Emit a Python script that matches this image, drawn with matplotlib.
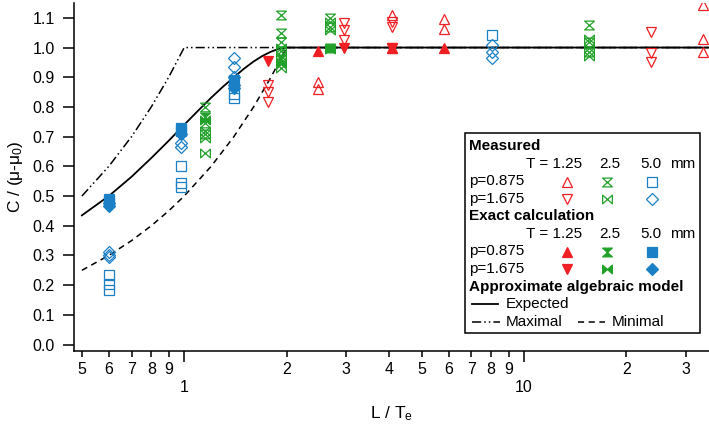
import matplotlib
matplotlib.use("Agg")
import matplotlib.pyplot as plt
from matplotlib.path import Path
from matplotlib.lines import Line2D
from matplotlib.patches import Rectangle
from matplotlib.ticker import FixedLocator, FuncFormatter

plt.rcParams['font.family'] = ['Liberation Sans', 'DejaVu Sans']
plt.rcParams['mathtext.fontset'] = 'custom'
plt.rcParams['mathtext.rm'] = 'Liberation Sans'
plt.rcParams['mathtext.it'] = 'Liberation Sans'

RED = "#ee2024"
GREEN = "#22a12a"
BLUE = "#1b80c5"

# model curves
exp_x = [0.5, 0.6, 0.7, 0.8, 0.9, 1.0, 1.1, 1.2, 1.3, 1.4, 1.5, 1.6, 1.7, 1.8, 1.9, 2.0, 35]
exp_y = [0.435, 0.5, 0.565, 0.628, 0.686, 0.74, 0.788, 0.831, 0.868, 0.90, 0.929, 0.953,
         0.972, 0.986, 0.996, 1.0, 1.0]
max_x = [0.5, 0.6, 0.7, 0.8, 0.9, 1.0, 35]
max_y = [0.5, 0.6, 0.7, 0.8, 0.9, 1.0, 1.0]
min_x = [0.5, 0.6, 0.7, 0.8, 0.9, 1.0, 1.2, 1.4, 1.6, 1.8, 2.0, 35]
min_y = [0.25, 0.3, 0.35, 0.4, 0.45, 0.5, 0.6, 0.7, 0.8, 0.9, 1.0, 1.0]

# measured
m_up_x = [2.47, 2.47, 4.1, 4.1, 5.8, 5.8, 33.5, 33.5, 33.5]
m_up_y = [0.885, 0.86, 1.11, 1.0, 1.095, 1.062, 1.144, 1.03, 0.985]
m_dn_x = [1.76, 1.76, 1.76, 2.95, 2.95, 2.95, 4.1, 4.1, 4.1, 23.7, 23.7, 23.7]
m_dn_y = [0.874, 0.85, 0.815, 1.083, 1.06, 1.026, 1.087, 1.07, 1.0, 1.053, 0.98, 0.952]
m_hg_x = [1.15, 1.15, 1.15, 1.93, 1.93, 1.93, 1.93, 2.68, 2.68, 15.5, 15.5, 15.5]
m_hg_y = [0.80, 0.745, 0.71, 1.11, 1.05, 1.02, 0.99, 1.10, 1.07, 1.077, 1.02, 0.985]
m_bt_x = [1.15, 1.15, 1.15, 1.93, 1.93, 1.93, 1.93, 2.68, 2.68, 15.5, 15.5, 15.5]
m_bt_y = [0.72, 0.695, 0.645, 1.00, 0.97, 0.95, 0.93, 1.085, 1.06, 1.03, 1.0, 0.97]
m_sq_x = [0.6, 0.6, 0.6, 0.98, 0.98, 0.98, 1.4, 1.4, 8.05]
m_sq_y = [0.235, 0.205, 0.185, 0.60, 0.545, 0.53, 0.845, 0.83, 1.043]
m_dm_x = [0.6, 0.6, 0.6, 0.98, 0.98, 1.4, 1.4, 1.4, 8.05, 8.05, 8.05]
m_dm_y = [0.31, 0.30, 0.295, 0.68, 0.665, 0.965, 0.935, 0.90, 1.01, 0.985, 0.965]

# exact calculation
e_up_x = [2.47, 4.1, 5.8]
e_up_y = [0.99, 1.0, 1.0]
e_dn_x = [1.76, 2.95, 4.1]
e_dn_y = [0.955, 1.0, 1.0]
e_hg_x = [1.15, 1.93, 2.68]
e_hg_y = [0.765, 0.96, 1.0]
e_bt_x = [1.15, 1.93, 2.68]
e_bt_y = [0.755, 0.945, 0.995]
e_sq_x = [0.6, 0.6, 0.98, 0.98, 1.4]
e_sq_y = [0.49, 0.485, 0.73, 0.72, 0.89]
e_dm_x = [0.6, 0.6, 0.98, 1.4, 1.4]
e_dm_y = [0.475, 0.468, 0.71, 0.875, 0.865]

hourglass = Path([(-1, 0.9), (1, 0.9), (-1, -0.9), (1, -0.9), (-1, 0.9)],
                 [Path.MOVETO, Path.LINETO, Path.LINETO, Path.LINETO, Path.CLOSEPOLY])
bowtie = Path([(-1, -0.9), (-1, 0.9), (1, -0.9), (1, 0.9), (-1, -0.9)],
              [Path.MOVETO, Path.LINETO, Path.LINETO, Path.LINETO, Path.CLOSEPOLY])

styles = {
    "up": dict(marker="^", ms=7.5, color=RED),
    "dn": dict(marker="v", ms=7.5, color=RED),
    "hg": dict(marker=hourglass, ms=7, color=GREEN),
    "bt": dict(marker=bowtie, ms=7, color=GREEN),
    "sq": dict(marker="s", ms=6.5, color=BLUE),
    "dm": dict(marker="D", ms=6.5, color=BLUE),
}
MAXDASH = (0, (6, 2, 1, 2, 1, 2))
MINDASH = (0, (4, 3))

W, H = 709, 424
fig = plt.figure(figsize=(W / 100, H / 100), dpi=100)
ax = fig.add_axes([74 / W, 1 - 350.5 / H, (709 - 74) / W, (350.5 - 3) / H])

ax.plot(exp_x, exp_y, color="black", lw=1.3, ls="-")
ax.plot(max_x, max_y, color="black", lw=1.1, ls=MAXDASH)
ax.plot(min_x, min_y, color="black", lw=1.1, ls=MINDASH)

measured = [("up", m_up_x, m_up_y), ("dn", m_dn_x, m_dn_y), ("hg", m_hg_x, m_hg_y),
            ("bt", m_bt_x, m_bt_y), ("sq", m_sq_x, m_sq_y), ("dm", m_dm_x, m_dm_y)]
exact = [("up", e_up_x, e_up_y), ("dn", e_dn_x, e_dn_y), ("hg", e_hg_x, e_hg_y),
         ("bt", e_bt_x, e_bt_y), ("sq", e_sq_x, e_sq_y), ("dm", e_dm_x, e_dm_y)]
for k, xs, ys in measured:
    s = styles[k]
    ax.plot(xs, ys, ls="none", marker=s["marker"], ms=s["ms"], mfc="none",
            mec=s["color"], mew=0.9)
for k, xs, ys in exact:
    s = styles[k]
    ax.plot(xs, ys, ls="none", marker=s["marker"], ms=s["ms"], mfc=s["color"],
            mec=s["color"], mew=0.9)

ax.set_xscale("log")
ax.set_xlim(0.474, 35)
ax.set_ylim(-0.02, 1.15)
ax.spines["top"].set_visible(False)
ax.spines["right"].set_visible(False)
for sp in ax.spines.values():
    sp.set_linewidth(1.1)

ax.xaxis.set_major_locator(FixedLocator([1, 10]))
ax.xaxis.set_minor_locator(FixedLocator([0.5, 0.6, 0.7, 0.8, 0.9, 2, 3, 4, 5, 6, 7, 8, 9, 20, 30]))
ax.xaxis.set_major_formatter(FuncFormatter(lambda v, p: "%g" % v))
ax.xaxis.set_minor_formatter(FuncFormatter(lambda v, p: ("%g" % v)[-1] if v < 1 else ("%g" % v)[0]))
ax.tick_params(axis="x", which="major", length=8, width=1.1, pad=13, labelsize=11.5)
ax.tick_params(axis="x", which="minor", length=4, width=1.1, pad=4, labelsize=11.5)
ax.set_yticks([i / 10 for i in range(12)])
ax.yaxis.set_major_formatter(FuncFormatter(lambda v, p: "%.1f" % v))
ax.tick_params(axis="y", length=8, width=1.1, pad=6, labelsize=11.5)

ax.set_ylabel("C / (μ-μ$_0$)", fontsize=12.5, labelpad=5)
ax.set_xlabel("L / T$_\\mathrm{e}$", fontsize=12.5, labelpad=7)


def fp(x, y):
    return (x / W, 1 - y / H)


fig.add_artist(Rectangle(fp(465, 333), (700 - 465) / W, (333 - 133) / H,
                         transform=fig.transFigure, fc="white", ec="black", lw=1.1))


def ftext(x, y, s, bold=False):
    fig.text(*fp(x, y), s, fontsize=11, va="center", ha="left",
             fontweight="bold" if bold else "normal")


def fmark(x, y, k, filled):
    s = styles[k]
    fig.add_artist(Line2D([x / W], [1 - y / H], transform=fig.transFigure, ls="none",
                          marker=s["marker"], ms=s["ms"], mec=s["color"], mew=0.9,
                          mfc=s["color"] if filled else "none"))


ftext(469, 146, "Measured", bold=True)
ftext(469, 216, "Exact calculation", bold=True)
for y0, filled in [(164, False), (234, True)]:
    ftext(526, y0, "T = 1.25")
    ftext(599, y0, "2.5")
    ftext(640, y0, "5.0")
    ftext(670, y0, "mm")
    ftext(469, y0 + 17.5, "p=0.875")
    ftext(469, y0 + 35, "p=1.675")
    fmark(567, y0 + 17.5, "up", filled)
    fmark(607, y0 + 17.5, "hg", filled)
    fmark(652, y0 + 17.5, "sq", filled)
    fmark(567, y0 + 35, "dn", filled)
    fmark(607, y0 + 35, "bt", filled)
    fmark(652, y0 + 35, "dm", filled)
ftext(469, 287, "Approximate algebraic model", bold=True)
fig.add_artist(Line2D([472 / W, 498 / W], [1 - 304 / H] * 2, transform=fig.transFigure,
                      color="black", lw=1.3))
ftext(506, 304, "Expected")
fig.add_artist(Line2D([472 / W, 500 / W], [1 - 321.5 / H] * 2, transform=fig.transFigure,
                      color="black", lw=1.1, ls=MAXDASH))
ftext(506, 321.5, "Maximal")
fig.add_artist(Line2D([578 / W, 605 / W], [1 - 321.5 / H] * 2, transform=fig.transFigure,
                      color="black", lw=1.1, ls=MINDASH))
ftext(612, 321.5, "Minimal")

fig.savefig("out.png", dpi=100)
